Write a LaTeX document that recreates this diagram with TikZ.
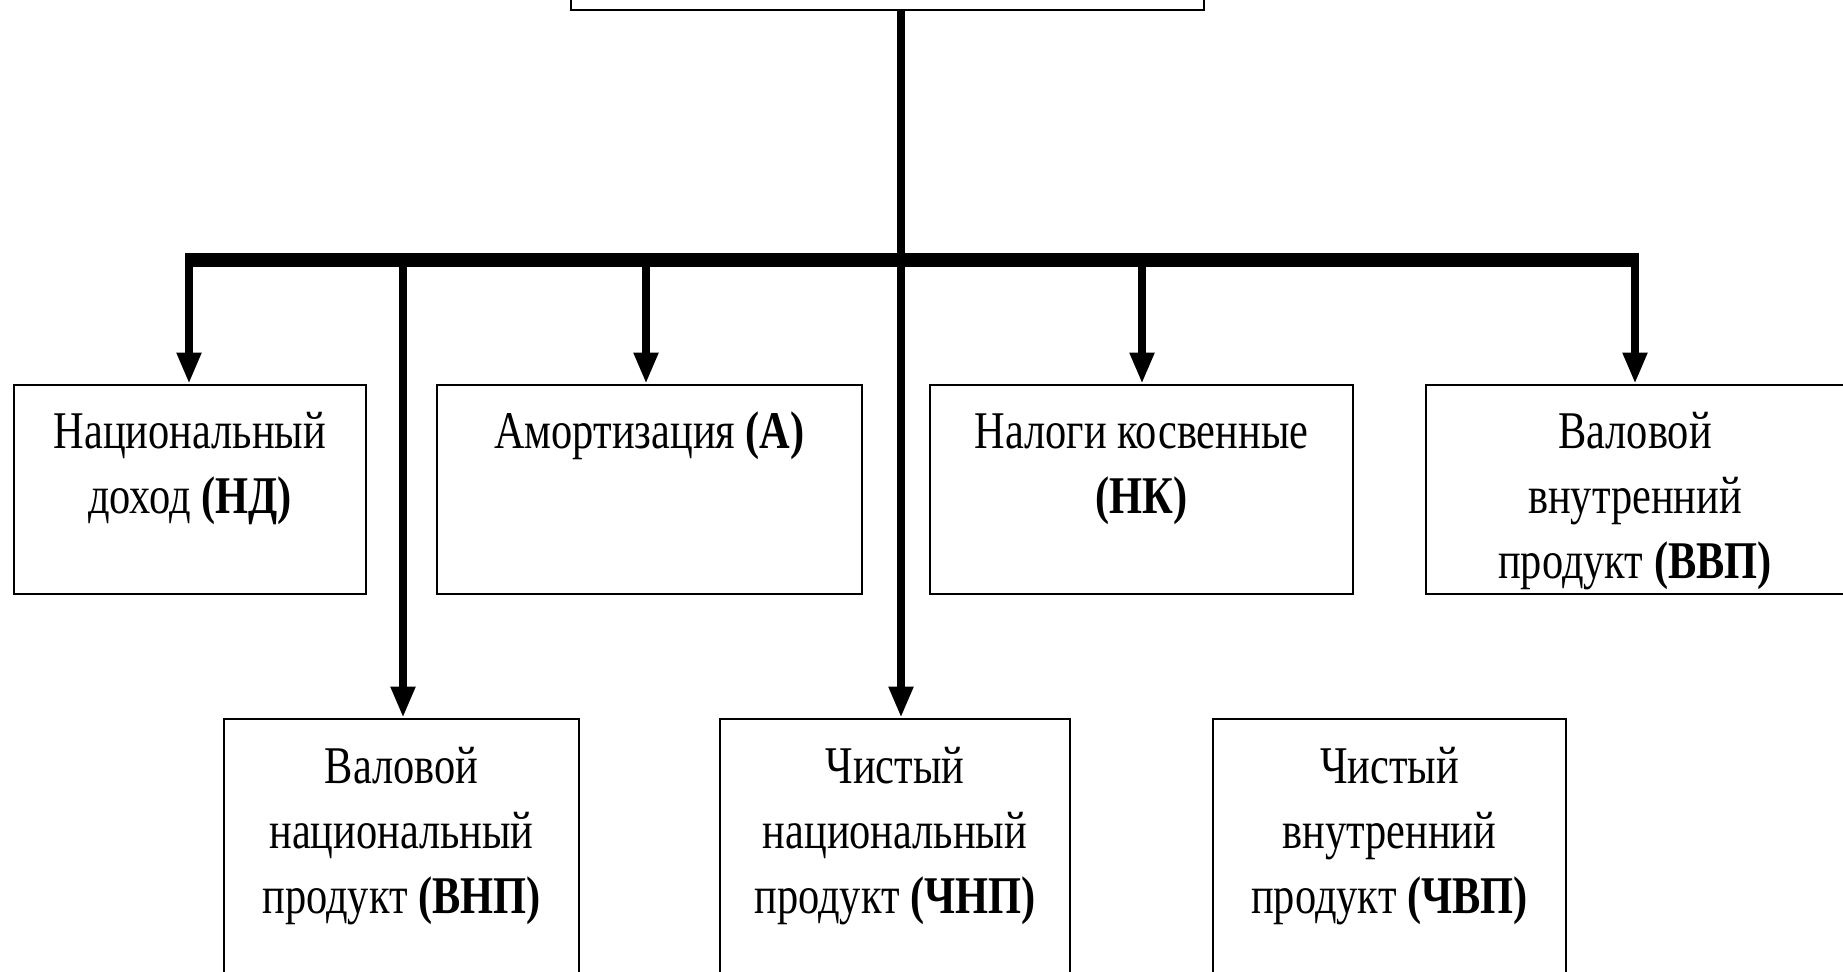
\documentclass[tikz,border=0pt]{standalone}
\usepackage{fontspec}
\setmainfont{Liberation Serif}[FakeStretch=0.8]
\usetikzlibrary{arrows.meta,calc}
\begin{document}
\begin{tikzpicture}[x=1pt,y=-1pt,
  box/.style={draw=black,line width=2.6pt,fill=white,rectangle,inner sep=0pt},
  lbl/.style={align=center,anchor=base,inner sep=0pt,font=\fontsize{53}{65}\selectfont},
  mainline/.style={line width=7.5pt},
  barline/.style={line width=14pt},
  drop/.style={line width=7.5pt,-{Triangle[width=23pt,length=31pt]}}]
\clip (0,0) rectangle (1843,971);
\fill[white] (0,0) rectangle (1843,971);
% top box
\node[box,minimum width=633,minimum height=110] (top) at (887.5,-45) {};
% row 1
\node[box,minimum width=352,minimum height=209] (b1) at (190,489.5) {};
\node[box,minimum width=425,minimum height=209] (b2) at (649.5,489.5) {};
\node[box,minimum width=423,minimum height=209] (b3) at (1141.5,489.5) {};
\node[box,minimum width=418,minimum height=209] (b4) at (1635,489.5) {};
% row 2
\node[box,minimum width=355,minimum height=256] (b5) at (401.5,847) {};
\node[box,minimum width=350,minimum height=256] (b6) at (895,847) {};
\node[box,minimum width=353,minimum height=256] (b7) at (1389.5,847) {};
% labels (anchor=base is the baseline of the last line)
\node[lbl] (t1) at ($(b1.north)+(0,130)$) {Национальный\\доход \textbf{(НД)}};
\node[lbl] (t2) at ($(b2.north)+(0,65)$) {Амортизация \textbf{(А)}};
\node[lbl] (t3) at ($(b3.north)+(0,130)$) {Налоги косвенные\\\textbf{(НК)}};
\node[lbl] (t4) at ($(b4.north)+(0,195)$) {Валовой\\внутренний\\продукт \textbf{(ВВП)}};
\node[lbl] (t5) at ($(b5.north)+(0,196)$) {Валовой\\национальный\\продукт \textbf{(ВНП)}};
\node[lbl] (t6) at ($(b6.north)+(0,196)$) {Чистый\\национальный\\продукт \textbf{(ЧНП)}};
\node[lbl] (t7) at ($(b7.north)+(0,196)$) {Чистый\\внутренний\\продукт \textbf{(ЧВП)}};
% connectors
\coordinate (hub) at (901,260);
\coordinate (barL) at (185,260);
\coordinate (barR) at (1639,260);
\coordinate (d1) at (189,260);
\coordinate (d2) at (646,260);
\coordinate (d3) at (1142,260);
\coordinate (d4) at (1635,260);
\coordinate (d5) at (403,260);
\draw[mainline] (top.south -| hub) -- (hub);
\draw[barline] (barL) -- (barR);
\draw[drop] (d1) -- (d1 |- b1.north);
\draw[drop] (d2) -- (d2 |- b2.north);
\draw[drop] (d3) -- (d3 |- b3.north);
\draw[drop] (d4) -- (d4 |- b4.north);
\draw[drop] (d5) -- (d5 |- b5.north);
\draw[drop] (hub) -- (hub |- b6.north);
\end{tikzpicture}
\end{document}
